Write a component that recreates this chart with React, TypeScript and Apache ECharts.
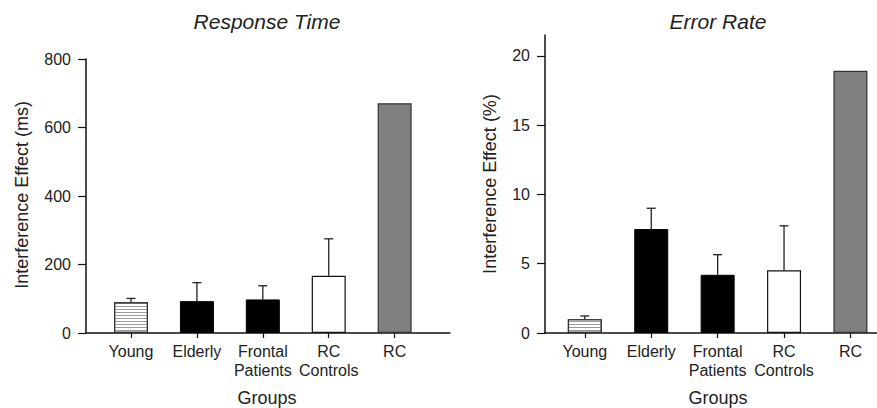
import React, { useEffect, useRef } from "react";
import * as echarts from "echarts";

const groups = ["Young", "Elderly", "Frontal\nPatients", "RC\nControls", "RC"];
const rtValues = [90, 93, 98, 167, 671];
const rtErrTop = [101, 147, 138, 275, null];
const erValues = [1.0, 7.5, 4.2, 4.53, 18.92];
const erErrTop = [1.23, 9.0, 5.65, 7.73, null];
const rtTicks = [0, 200, 400, 600, 800];
const erTicks = [0, 5, 10, 15, 20];

const FONT = "Liberation Sans, Arial, sans-serif";
const TXT = "#222";

const barStyles = [
  { color: "#fff", borderColor: "#333", borderWidth: 1.2, decal: { symbol: "rect", symbolSize: 1, dashArrayX: [[1, 0]], dashArrayY: [1, 2], color: "#9a9a9a", backgroundColor: "#fff", rotation: 0 } },
  { color: "#000", borderColor: "#000", borderWidth: 1 },
  { color: "#000", borderColor: "#000", borderWidth: 1 },
  { color: "#fff", borderColor: "#111", borderWidth: 1.2 },
  { color: "#808080", borderColor: "#333", borderWidth: 1.2 },
];

function barData(vals: number[]) {
  return vals.map((v, i) => ({ value: [i, v], itemStyle: barStyles[i] }));
}

function errData(vals: number[], tops: (number | null)[]) {
  return vals
    .map((v, i) => (tops[i] == null ? null : [i, v, tops[i] as number]))
    .filter((d) => d != null);
}

function renderErr(params: any, api: any) {
  const x = api.value(0);
  const lo = api.coord([x, api.value(1)]);
  const hi = api.coord([x, api.value(2)]);
  const s = { stroke: "#222", lineWidth: 1.3 };
  return {
    type: "group",
    children: [
      { type: "line", shape: { x1: lo[0], y1: lo[1], x2: hi[0], y2: hi[1] }, style: s },
      { type: "line", shape: { x1: hi[0] - 4.5, y1: hi[1], x2: hi[0] + 4.5, y2: hi[1] }, style: s },
    ],
  };
}

function xAxis(gridIndex: number, min: number, max: number) {
  return {
    type: "value",
    gridIndex,
    min,
    max,
    splitLine: { show: false },
    axisLine: { show: true, onZero: false, lineStyle: { color: "#111", width: 1.5 } },
    axisTick: { show: true, length: 5, inside: false, customValues: [0, 1, 2, 3, 4], lineStyle: { color: "#111", width: 1.2 } },
    axisLabel: {
      show: true,
      customValues: [0, 1, 2, 3, 4],
      formatter: (v: number) => groups[Math.round(v)] ?? "",
      margin: 9,
      fontFamily: FONT,
      fontSize: 16,
      color: TXT,
      lineHeight: 19,
      verticalAlign: "top",
    },
  };
}

function yAxis(gridIndex: number, max: number, ticks: number[]) {
  return {
    type: "value",
    gridIndex,
    min: 0,
    max,
    splitLine: { show: false },
    axisLine: { show: true, onZero: false, lineStyle: { color: "#111", width: 1.5 } },
    axisTick: { show: true, length: 8, customValues: ticks, lineStyle: { color: "#111", width: 1.2 } },
    axisLabel: { show: true, customValues: ticks, margin: 15, fontFamily: FONT, fontSize: 16, color: TXT },
  };
}

export default function App() {
  const ref = useRef<HTMLDivElement>(null);
  useEffect(() => {
    const chart = echarts.init(ref.current!, null, { renderer: "svg" });
    chart.setOption({
      animation: false,
      backgroundColor: "#fff",
      grid: [
        { left: 86, top: 59, width: 364, bottom: 75 },
        { left: 545, top: 35, right: 0, bottom: 75 },
      ],
      xAxis: [xAxis(0, -0.683, 4.84), xAxis(1, -0.6, 4.4)],
      yAxis: [yAxis(0, 800, rtTicks), yAxis(1, 21.5, erTicks)],
      series: [
        { type: "bar", xAxisIndex: 0, yAxisIndex: 0, barWidth: 34, data: barData(rtValues) },
        { type: "bar", xAxisIndex: 1, yAxisIndex: 1, barWidth: 34, data: barData(erValues) },
        { type: "custom", xAxisIndex: 0, yAxisIndex: 0, renderItem: renderErr, data: errData(rtValues, rtErrTop), z: 1 },
        { type: "custom", xAxisIndex: 1, yAxisIndex: 1, renderItem: renderErr, data: errData(erValues, erErrTop), z: 1 },
      ],
      graphic: [
        { type: "text", x: 267, y: 21, style: { text: "Response Time", font: `italic 21px ${FONT}`, fill: TXT, align: "center", verticalAlign: "middle" } },
        { type: "text", x: 718, y: 21, style: { text: "Error Rate", font: `italic 21px ${FONT}`, fill: TXT, align: "center", verticalAlign: "middle" } },
        { type: "text", x: 22, y: 195, rotation: Math.PI / 2, style: { text: "Interference Effect (ms)", font: `18px ${FONT}`, fill: TXT, align: "center", verticalAlign: "middle" } },
        { type: "text", x: 490, y: 184, rotation: Math.PI / 2, style: { text: "Interference Effect (%)", font: `18px ${FONT}`, fill: TXT, align: "center", verticalAlign: "middle" } },
        { type: "text", x: 267, y: 398, style: { text: "Groups", font: `18px ${FONT}`, fill: TXT, align: "center", verticalAlign: "middle" } },
        { type: "text", x: 718, y: 398, style: { text: "Groups", font: `18px ${FONT}`, fill: TXT, align: "center", verticalAlign: "middle" } },
      ],
    });
    return () => chart.dispose();
  }, []);
  return <div ref={ref} style={{ width: 877, height: 408, position: "absolute", left: 0, top: 0 }} />;
}
